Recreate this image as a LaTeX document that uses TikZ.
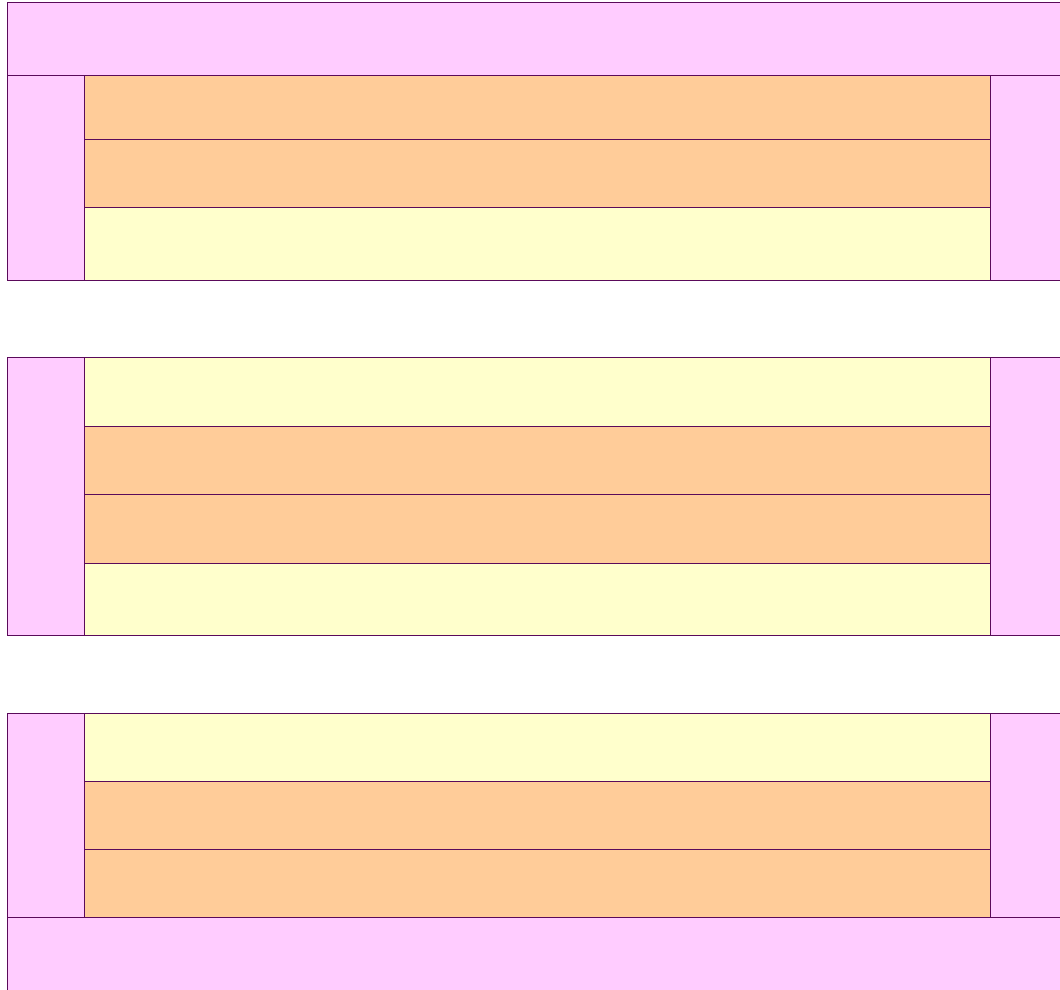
\documentclass[tikz,border=0pt]{standalone}
\usepackage{tikz}
\usepackage{xcolor}
\definecolor{pinkfill}{HTML}{FFCCFF}
\definecolor{orangefill}{HTML}{FFCC99}
\definecolor{yellowfill}{HTML}{FFFFCC}
\definecolor{edgepurple}{HTML}{5A0A5A}
\begin{document}
\begin{tikzpicture}[x=0.025cm,y=-0.025cm]
	\tikzstyle{frame}=[draw=edgepurple, line width=0.6pt]
	\tikzstyle{side}=[frame, fill=pinkfill]
	\tikzstyle{warm}=[frame, fill=orangefill]
	\tikzstyle{pale}=[frame, fill=yellowfill]
	\useasboundingbox (0,0) rectangle (1060,990);
	\clip (0,0) rectangle (1060,990);
	
	% first block
	\draw[side] (7,2) rectangle (1080,75);
	\draw[side] (7,75) rectangle (84,280);
	\draw[side] (990,75) rectangle (1080,280);
	\draw[warm] (84,75) rectangle (990,139);
	\draw[warm] (84,139) rectangle (990,207);
	\draw[pale] (84,207) rectangle (990,280);
	
	% second block
	\draw[side] (7,357) rectangle (84,635);
	\draw[side] (990,357) rectangle (1080,635);
	\draw[pale] (84,357) rectangle (990,426);
	\draw[warm] (84,426) rectangle (990,494);
	\draw[warm] (84,494) rectangle (990,563);
	\draw[pale] (84,563) rectangle (990,635);
	
	% third block
	\draw[side] (7,713) rectangle (84,917);
	\draw[side] (990,713) rectangle (1080,917);
	\draw[pale] (84,713) rectangle (990,781);
	\draw[warm] (84,781) rectangle (990,849);
	\draw[warm] (84,849) rectangle (990,917);
	\draw[side] (7,917) rectangle (1080,1010);
\end{tikzpicture}
\end{document}
